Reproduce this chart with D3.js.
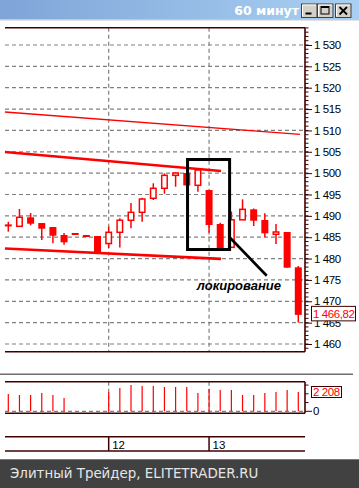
<!DOCTYPE html>
<html><head><meta charset="utf-8">
<script src="https://cdn.jsdelivr.net/npm/d3@7"></script>
<style>html,body{margin:0;padding:0;background:#fff;overflow:hidden}svg{display:block}</style>
</head><body>
<script>
// ---- data ----
const title = "60 минут";
const dayLabels = ["12", "13"];
const dayStartIndex = [9, 18];
const opens  = [1488.0,1487.55,1489.66,1488.32,1487.39,1485.51,1485.75,1485.28,1485.28,1483.52,1486.15,1488.96,1490.83,1494.11,1496.45,1499.49,1500.03,1497.15,1496.05,1488.09,1482.63,1489.07,1491.53,1489.03,1485.68,1486.22,1477.95];
const highs  = [1488.6,1491.6,1490.66,1488.32,1487.39,1485.98,1485.75,1485.28,1485.28,1487.5,1489.42,1493.01,1494.25,1497.62,1499.96,1500.1,1500.03,1501.08,1496.05,1488.4,1491.02,1493.87,1491.72,1490.59,1488.09,1486.22,1478.26];
const lows   = [1486.3,1487.55,1487.8,1484.34,1483.57,1483.24,1485.75,1485.28,1481.53,1482.47,1482.59,1487.08,1488.63,1493.71,1495.18,1496.82,1497.11,1495.65,1486.05,1482.2,1482.63,1489.07,1487.62,1484.98,1483.41,1477.86,1465.03];
const closes = [1487.6,1489.66,1488.16,1486.99,1485.35,1483.81,1485.75,1485.28,1481.53,1486.15,1488.98,1490.83,1493.94,1496.45,1499.49,1500.03,1497.11,1500.73,1487.86,1482.31,1489.07,1491.53,1488.86,1485.91,1486.22,1477.86,1466.82];
const volumes = [1980,1865,1865,2094,1865,1522,0,0,0,2208,2666,3009,2894,2894,2780,2780,2780,2094,2551,2437,2437,1865,1865,2094,2208,2437,2208];
const priceTicks = [1460,1465,1470,1475,1480,1485,1490,1495,1500,1505,1510,1515,1520,1525,1530];
const lastPriceLabel = "1 466,82";
const lastVolumeLabel = "2 208";
// trend lines: [index, price] pairs
const trendThin  = [[-0.3,1514.31],[26.16,1509.09]];
const trendUpper = [[-0.3,1504.95],[19.07,1500.5]];
const trendLower = [[-0.3,1482.35],[19.07,1479.94]];
// annotation (data units)
const boxIdx = [16.07,19.84], boxPrice = [1482.12,1503.19];
const arrow = [[19.88,1484.88],[23.17,1475.98]];
const noteText = "локирование", noteAt = [16.9,1472.64];
const footer = "Элитный Трейдер, ELITETRADER.RU";

// ---- layout ----
const W=359,H=488;
const svg=d3.select("body").append("svg").attr("width",W).attr("height",H);
const RED="#ff0000", AX="#400000", GRID="#808080";
const pL=5, pR=305, pT=27.7, pB=351.7;

const x=d3.scaleLinear().domain([0,26]).range([8.3,298.3]);
const y=d3.scaleLinear().domain([1460,1530]).range([344,45]);
const vy=d3.scaleLinear().domain([0,2208]).range([411.3,392]);

// title bar
const defs=svg.append("defs");
const g1=defs.append("linearGradient").attr("id","tb");
g1.append("stop").attr("offset","0").attr("stop-color","#7fa5d8");
g1.append("stop").attr("offset","1").attr("stop-color","#a9d0f2");
svg.append("rect").attr("x",0).attr("y",0).attr("width",W).attr("height",19).attr("fill","url(#tb)");
svg.append("rect").attr("x",0).attr("y",19).attr("width",W).attr("height",1.5).attr("fill","#c8c8c8");
svg.append("text").attr("x",299).attr("y",15).attr("text-anchor","end")
  .attr("font-family","DejaVu Sans").attr("font-weight","bold").attr("font-size",12.5).attr("fill","#fff").text(title);
const btns=[[301.5,"min"],[317.5,"max"],[335.5,"close"]];
btns.forEach(([bx,k])=>{
  const b=svg.append("g");
  b.append("rect").attr("x",bx).attr("y",4).attr("width",15.5).attr("height",13.5).attr("fill","#d4d0c8").attr("stroke","#404040").attr("stroke-width",1);
  b.append("path").attr("d",`M${bx+1},${16.5}V${5}H${bx+14.5}`).attr("stroke","#fff").attr("fill","none");
  if(k==="min") b.append("rect").attr("x",bx+4).attr("y",12.5).attr("width",6).attr("height",2).attr("fill","#000");
  if(k==="max"){ b.append("rect").attr("x",bx+3.5).attr("y",6.5).attr("width",8).attr("height",7.5).attr("fill","none").attr("stroke","#000").attr("stroke-width",1);
    b.append("rect").attr("x",bx+3.5).attr("y",6).attr("width",8).attr("height",2).attr("fill","#000");}
  if(k==="close") b.append("path").attr("d",`M${bx+4},${7}L${bx+11.5},${14.5}M${bx+11.5},${7}L${bx+4},${14.5}`).attr("stroke","#000").attr("stroke-width",1.8);
});

// main panel grid
const gMain=svg.append("g");
gMain.selectAll(".hg").data(priceTicks).join("line")
  .attr("x1",pL).attr("x2",pR).attr("y1",d=>y(d)).attr("y2",d=>y(d))
  .attr("stroke",GRID).attr("stroke-width",1.2).attr("stroke-dasharray","4,3");
gMain.append("g").selectAll("line").data(dayStartIndex).join("line")
  .attr("x1",d=>x(d)).attr("x2",d=>x(d)).attr("y1",pT).attr("y2",pB)
  .attr("stroke",GRID).attr("stroke-width",1.2).attr("stroke-dasharray","4,3");

// frame
svg.append("line").attr("x1",pL).attr("x2",pR).attr("y1",pT).attr("y2",pT).attr("stroke",AX).attr("stroke-width",1.5);
svg.append("line").attr("x1",pL).attr("x2",pR).attr("y1",pB).attr("y2",pB).attr("stroke",AX).attr("stroke-width",1.5);

// right axis
const axis=d3.axisRight(y).tickValues(priceTicks).tickSize(7).tickPadding(2)
  .tickFormat(d=>d3.format(",")(d).replace(",", " "));
const ga=svg.append("g").attr("transform",`translate(${pR},0)`).call(axis);
ga.select(".domain").remove();
ga.selectAll("line").attr("stroke",AX).attr("stroke-width",1);
ga.selectAll("text").attr("font-family","Liberation Sans, Arial").attr("font-size",11.5).attr("fill","#000").attr("letter-spacing","-0.4");
const minor=d3.range(1459,1535);
svg.append("g").selectAll("line").data(minor).join("line")
  .attr("x1",pR).attr("x2",pR+3.5).attr("y1",d=>y(d)).attr("y2",d=>y(d)).attr("stroke",AX).attr("stroke-width",1);
svg.append("line").attr("x1",pR).attr("x2",pR).attr("y1",pT).attr("y2",pB).attr("stroke",AX).attr("stroke-width",1.6);

// trend lines
const line=d3.line().x(d=>x(d[0])).y(d=>y(d[1]));
svg.append("path").attr("d",line(trendThin)).attr("stroke",RED).attr("stroke-width",1.3).attr("fill","none");
svg.append("path").attr("d",line(trendUpper)).attr("stroke",RED).attr("stroke-width",2.6).attr("fill","none");
svg.append("path").attr("d",line(trendLower)).attr("stroke",RED).attr("stroke-width",2.6).attr("fill","none");

// candles
const candles=opens.map((o,i)=>({i,o,h:highs[i],l:lows[i],c:closes[i]}));
const gc=svg.append("g");
gc.append("g").selectAll("line").data(candles.filter(d=>d.h>d.l)).join("line")
  .attr("x1",d=>x(d.i)).attr("x2",d=>x(d.i)).attr("y1",d=>y(d.h)).attr("y2",d=>y(d.l))
  .attr("stroke",RED).attr("stroke-width",1.5);
candles.forEach(d=>{
  const cx=x(d.i);
  if(Math.abs(d.o-d.c)<0.05){
    gc.append("line").attr("x1",cx-3.5).attr("x2",cx+3.5).attr("y1",y(d.c)).attr("y2",y(d.c)).attr("stroke",RED).attr("stroke-width",2);
  } else if(d.c>d.o){
    gc.append("rect").attr("x",cx-2.75).attr("width",5.5).attr("y",y(d.c)).attr("height",y(d.o)-y(d.c))
      .attr("fill","#fff").attr("stroke",RED).attr("stroke-width",1.5);
  } else {
    gc.append("rect").attr("x",cx-3.5).attr("width",7).attr("y",y(d.o)).attr("height",Math.max(2,y(d.c)-y(d.o))).attr("fill",RED);
  }
});

// annotation box, arrow, note
svg.append("rect").attr("x",x(boxIdx[0])).attr("y",y(boxPrice[1]))
  .attr("width",x(boxIdx[1])-x(boxIdx[0])).attr("height",y(boxPrice[0])-y(boxPrice[1]))
  .attr("fill","none").attr("stroke","#000").attr("stroke-width",3);
svg.append("path").attr("d",line(arrow)).attr("stroke","#000").attr("stroke-width",2.6).attr("fill","none");
svg.append("text").attr("x",x(noteAt[0])).attr("y",y(noteAt[1])).attr("font-family","Liberation Sans, Arial")
  .attr("font-weight","bold").attr("font-style","italic").attr("font-size",13).attr("fill","#000").text(noteText);

// last price label
const lp=svg.append("g");
lp.append("rect").attr("x",311.5).attr("y",y(closes[closes.length-1])-8.5).attr("width",44).attr("height",14.5).attr("fill","#fff").attr("stroke",AX).attr("stroke-width",1);
lp.append("text").attr("x",313).attr("y",y(closes[closes.length-1])+3.5).attr("font-family","Liberation Sans, Arial").attr("font-size",11.5)
  .attr("letter-spacing","-0.4").attr("fill",RED).text(lastPriceLabel);

// separator lines
svg.append("line").attr("x1",0).attr("x2",353).attr("y1",373.5).attr("y2",373.5).attr("stroke","#b4b4b4").attr("stroke-width",1);
svg.append("line").attr("x1",0).attr("x2",353).attr("y1",374.5).attr("y2",374.5).attr("stroke","#6e6e6e").attr("stroke-width",1);

// volume panel
const vTop=381.7, vBot=413.3;
svg.append("line").attr("x1",pL).attr("x2",pR).attr("y1",vy(0)).attr("y2",vy(0)).attr("stroke",GRID).attr("stroke-width",1.2).attr("stroke-dasharray","4,3");
svg.append("g").selectAll("line").data(dayStartIndex).join("line")
  .attr("x1",d=>x(d)).attr("x2",d=>x(d)).attr("y1",vTop).attr("y2",vBot)
  .attr("stroke",GRID).attr("stroke-width",1.2).attr("stroke-dasharray","4,3");
svg.append("g").selectAll("line").data(volumes.map((v,i)=>({v,i})).filter(d=>d.v>0)).join("line")
  .attr("x1",d=>x(d.i)).attr("x2",d=>x(d.i)).attr("y1",d=>vy(d.v)).attr("y2",vy(0))
  .attr("stroke",RED).attr("stroke-width",1.2);
svg.append("line").attr("x1",pL).attr("x2",pR).attr("y1",vTop).attr("y2",vTop).attr("stroke",AX).attr("stroke-width",1.5);
svg.append("line").attr("x1",pL).attr("x2",pR).attr("y1",vBot).attr("y2",vBot).attr("stroke",AX).attr("stroke-width",1.5);
svg.append("line").attr("x1",pR).attr("x2",pR).attr("y1",vTop).attr("y2",vBot).attr("stroke",AX).attr("stroke-width",1.6);
svg.append("g").selectAll("line").data([0,1000,2000,3000]).join("line")
  .attr("x1",pR).attr("x2",d=>d===0?pR+7:pR+3.5).attr("y1",d=>vy(d)).attr("y2",d=>vy(d)).attr("stroke",AX);
svg.append("text").attr("x",313).attr("y",vy(0)+4).attr("font-family","Liberation Sans, Arial").attr("font-size",11.5).text("0");
svg.append("rect").attr("x",311.5).attr("y",vy(volumes[volumes.length-1])-5.5).attr("width",30).attr("height",11).attr("fill","#fff").attr("stroke",AX);
svg.append("text").attr("x",313).attr("y",vy(volumes[volumes.length-1])+4).attr("font-family","Liberation Sans, Arial").attr("font-size",11.5)
  .attr("letter-spacing","-0.4").attr("fill",RED).text(lastVolumeLabel);

// time axis
const tTop=436.7, tBot=451;
svg.append("line").attr("x1",pL).attr("x2",pR).attr("y1",tTop).attr("y2",tTop).attr("stroke",AX).attr("stroke-width",1.5);
svg.append("line").attr("x1",pL).attr("x2",pR).attr("y1",tBot).attr("y2",tBot).attr("stroke",AX).attr("stroke-width",1.5);
svg.append("g").selectAll("line").data(dayStartIndex).join("line")
  .attr("x1",d=>x(d)).attr("x2",d=>x(d)).attr("y1",tTop).attr("y2",tBot).attr("stroke",AX).attr("stroke-width",1.5);
svg.append("g").selectAll("text").data(dayStartIndex).join("text")
  .attr("x",d=>x(d)+3.5).attr("y",448.5).attr("font-family","Liberation Sans, Arial").attr("font-size",11.5)
  .text((d,i)=>dayLabels[i]);

// footer
svg.append("rect").attr("x",0).attr("y",459.3).attr("width",W).attr("height",H-459.3).attr("fill","#414141");
svg.append("text").attr("x",10).attr("y",478).attr("font-family","DejaVu Sans").attr("font-size",13.4).attr("fill","#e6e6e6").text(footer);
</script>
</body></html>
